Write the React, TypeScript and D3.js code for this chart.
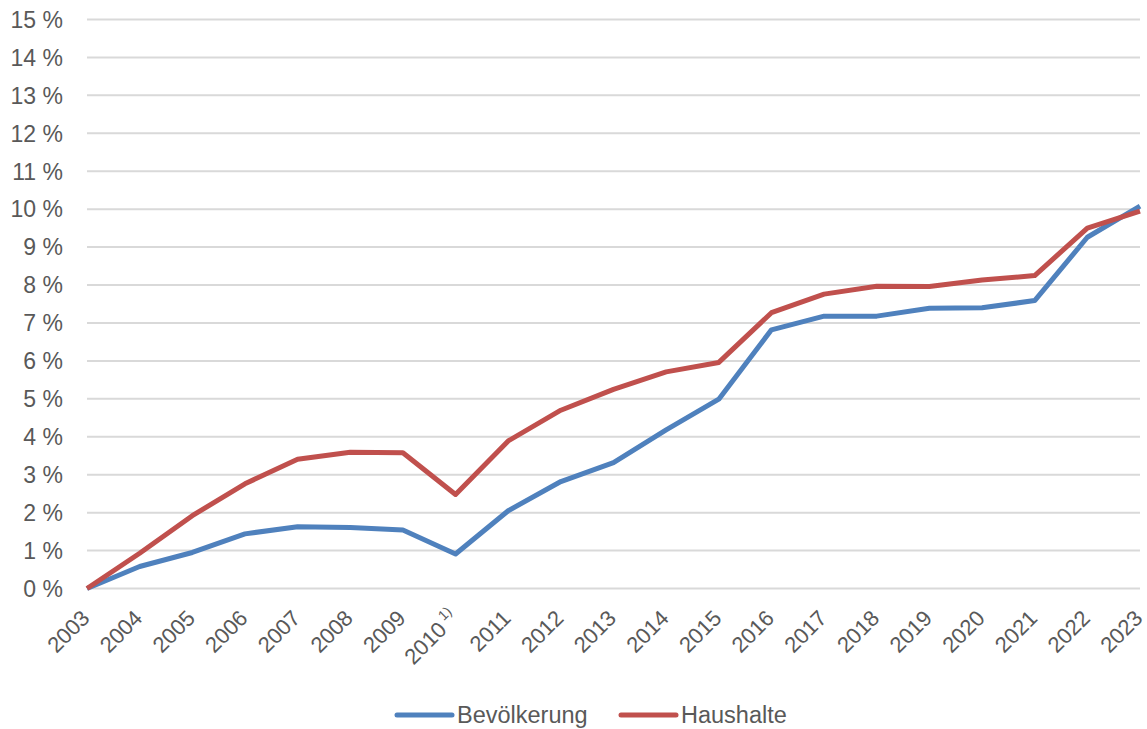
import React from "react";
import * as d3 from "d3";

const years = [
  "2003", "2004", "2005", "2006", "2007", "2008", "2009", "2010", "2011", "2012",
  "2013", "2014", "2015", "2016", "2017", "2018", "2019", "2020", "2021", "2022", "2023",
];
const bevoelkerung = [
  0, 0.58, 0.95, 1.44, 1.63, 1.61, 1.54, 0.91, 2.05, 2.82,
  3.32, 4.18, 4.99, 6.82, 7.18, 7.18, 7.39, 7.40, 7.59, 9.26, 10.08,
];
const haushalte = [
  0, 0.93, 1.92, 2.76, 3.41, 3.59, 3.58, 2.48, 3.89, 4.70,
  5.25, 5.71, 5.96, 7.27, 7.76, 7.97, 7.96, 8.13, 8.25, 9.50, 9.95,
];
const yTicks = d3.range(0, 16);
const seriesNames = ["Bevölkerung", "Haushalte"];
const seriesColors = ["#4F81BD", "#C0504D"];

const W = 1147;
const H = 729;
const left = 87;
const right = 1140;
const top = 19.5;
const bottom = 588.5;
const font = "'Liberation Sans', Arial, sans-serif";
const textColor = "#595959";

export default function App() {
  const x = d3.scalePoint<string>().domain(years).range([left, right]);
  const y = d3.scaleLinear().domain([0, 15]).range([bottom, top]);
  const line = d3
    .line<number>()
    .x((_, i) => x(years[i]) as number)
    .y((d) => y(d));
  const series = [bevoelkerung, haushalte];

  return (
    <svg
      width={W}
      height={H}
      style={{ position: "absolute", left: 0, top: 0, background: "#fff" }}
      fontFamily={font}
    >
      {yTicks.map((t) => (
        <g key={t}>
          <line x1={left} x2={right} y1={y(t)} y2={y(t)} stroke="#D9D9D9" strokeWidth={2} />
          <text
            x={63}
            y={y(t)}
            dy="0.36em"
            textAnchor="end"
            fontSize={23}
            fill={textColor}
          >
            {`${t} %`}
          </text>
        </g>
      ))}
      {years.map((yr) => {
        const px = x(yr) as number;
        return (
          <text
            key={yr}
            transform={`translate(${px + 4},${bottom + 31}) rotate(-45)`}
            textAnchor="end"
            fontSize={22}
            fill={textColor}
          >
            {yr}
            {yr === "2010" ? (
              <tspan fontSize={14} dy={-10}>
                {" 1)"}
              </tspan>
            ) : null}
          </text>
        );
      })}
      {series.map((s, i) => (
        <path
          key={i}
          d={line(s) as string}
          fill="none"
          stroke={seriesColors[i]}
          strokeWidth={5}
          strokeLinejoin="round"
        />
      ))}
      {seriesNames.map((name, i) => {
        const lx = i === 0 ? 397 : 621;
        return (
          <g key={name}>
            <line
              x1={lx}
              x2={lx + 55}
              y1={715}
              y2={715}
              stroke={seriesColors[i]}
              strokeWidth={5}
              strokeLinecap="round"
            />
            <text x={lx + 60} y={715} dy="0.36em" fontSize={23.5} fill={textColor}>
              {name}
            </text>
          </g>
        );
      })}
    </svg>
  );
}
